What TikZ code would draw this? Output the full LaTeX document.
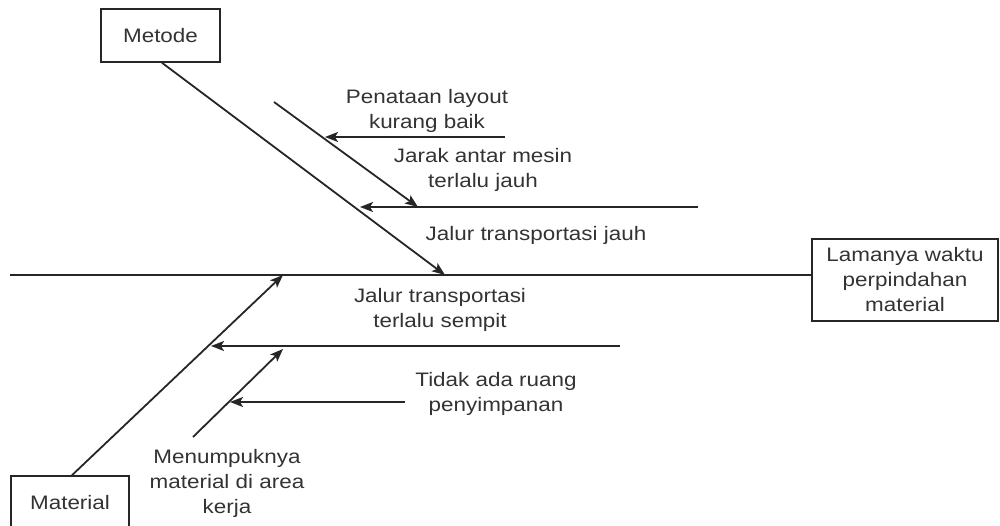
\documentclass[tikz,border=0pt]{standalone}
\usepackage{fontspec}
\setmainfont[FakeStretch=1.15]{Liberation Sans}
\usetikzlibrary{arrows.meta}
\begin{document}
\begin{tikzpicture}[x=1pt,y=-1pt,
  line/.style={draw=black!85, line width=1.8pt},
  arr/.style={line, -{Stealth[length=13pt,width=10pt,inset=3pt]}},
  box/.style={draw=black!85, line width=1.6pt, align=center, inner sep=0pt, text=black!80, font=\fontsize{19.5}{25}\selectfont},
  lbl/.style={align=center, inner sep=0pt, text=black!80, font=\fontsize{19.5}{25}\selectfont}]
\useasboundingbox (0,0) rectangle (1000,526);
% boxes
\node[box, minimum width=119pt, minimum height=53pt] (met) at (160.5,35.5) {Metode};
\node[box, minimum width=186pt, minimum height=82pt] (eff) at (905,280) {Lamanya waktu\\perpindahan\\material};
\node[box, minimum width=118pt, minimum height=54pt] (mat) at (70,503) {Material};
% spine
\coordinate (s0) at (10,275);
\draw[line] (s0) -- (s0 -| eff.west);
% coordinates
\coordinate (mtip) at (445,275);
\coordinate (a0) at (274,102);
\coordinate (a1) at (418,207);
\coordinate (h1s) at (505,137);
\coordinate (h1e) at (325,137);
\coordinate (h2s) at (698,207);
\coordinate (h2e) at (360,207);
\coordinate (btip) at (283,275);
\coordinate (h3s) at (620,346);
\coordinate (h3e) at (211,346);
\coordinate (c0) at (193,437);
\coordinate (c1) at (283,349);
\coordinate (h4s) at (405,402);
\coordinate (h4e) at (230,402);
% bones
\draw[arr] (met.south -| 162,0) -- (mtip);
\draw[arr] (a0) -- (a1);
\draw[arr] (h1s) -- (h1e);
\draw[arr] (h2s) -- (h2e);
\draw[arr] (mat.north -| 72,0) -- (btip);
\draw[arr] (h3s) -- (h3e);
\draw[arr] (c0) -- (c1);
\draw[arr] (h4s) -- (h4e);
% labels
\node[lbl] (l1) at (427,111) {Penataan layout\\kurang baik};
\node[lbl] (l2) at (483,170) {Jarak antar mesin\\terlalu jauh};
\node[lbl] (l3) at (536,235) {Jalur transportasi jauh};
\node[lbl] (l4) at (440,310) {Jalur transportasi\\terlalu sempit};
\node[lbl] (l5) at (496,394) {Tidak ada ruang\\penyimpanan};
\node[lbl] (l6) at (227,483) {Menumpuknya\\material di area\\kerja};
\end{tikzpicture}
\end{document}
